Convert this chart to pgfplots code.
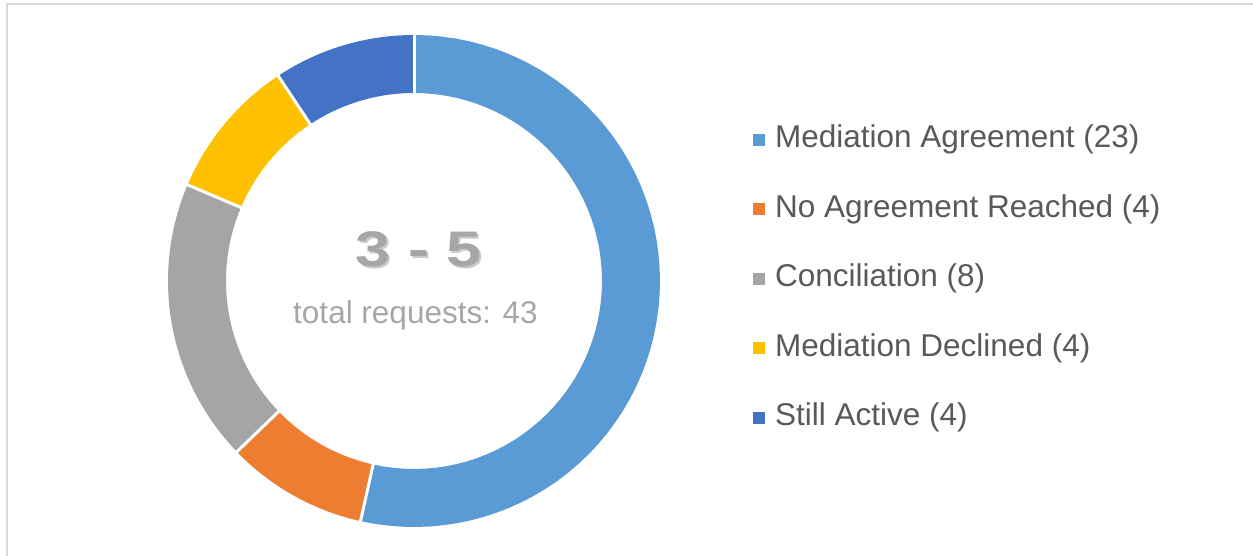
\documentclass[border=0pt]{standalone}
\usepackage{pgfplots}
\pgfplotsset{compat=1.18}
\usepackage{fontspec}
\setmainfont{Liberation Sans}
\definecolor{cA}{HTML}{5B9BD5}
\definecolor{cB}{HTML}{ED7D31}
\definecolor{cC}{HTML}{A5A5A5}
\definecolor{cD}{HTML}{FFC000}
\definecolor{cE}{HTML}{4472C4}
\definecolor{txt}{HTML}{595959}
\definecolor{ctr}{HTML}{A6A6A6}
\definecolor{frm}{HTML}{D9D9D9}
% ring segment between cumulative counts #1 and #2 (total 43)
\newcommand\seg[3]{%
\addplot[fill=#3, draw=none, samples at={0,...,121}, variable=\t]
({414+ifthenelse(\t<61,246,188)*cos(ifthenelse(\t<61, 90-360*(#1+(#2-#1)*\t/60)/43, 90-360*(#2-(#2-#1)*(\t-61)/60)/43))},
 {274+ifthenelse(\t<61,246,188)*sin(ifthenelse(\t<61, 90-360*(#1+(#2-#1)*\t/60)/43, 90-360*(#2-(#2-#1)*(\t-61)/60)/43))});}
\newcommand\sep[1]{%
\addplot[white, line width=3pt, samples=2, domain=180:255, forget plot, variable=\t]
({414+\t*cos(90-360*#1/43)},{274+\t*sin(90-360*#1/43)});}
\begin{document}
\begin{tikzpicture}
\useasboundingbox (0,0) rectangle (1253pt,555pt);
\draw[frm, line width=1.5pt] (7pt,-20pt) -- (7pt,551pt) -- (1280pt,551pt);
\begin{axis}[
  at={(0pt,0pt)}, anchor=origin,
  x=1pt, y=1pt, xmin=0, xmax=1253, ymin=0, ymax=555,
  hide axis, clip=false,
  legend style={at={(axis cs:753,430.5)}, anchor=north west, draw=none, fill=none,
    inner sep=0pt, row sep=39.5pt, column sep=10pt,
    font=\fontsize{31.5}{31.5}\selectfont, text=txt,
    nodes={inner sep=0pt, text height=23pt, text depth=7pt}},
  legend cell align=left,
  legend image code/.code={\fill[#1] (0pt,-6pt) rectangle (12pt,6pt);},
]
% counts: Mediation Agreement 23, No Agreement Reached 4, Conciliation 8, Mediation Declined 4, Still Active 4
\seg{0}{23}{cA}
\seg{23}{27}{cB}
\seg{27}{35}{cC}
\seg{35}{39}{cD}
\seg{39}{43}{cE}
\sep{0}\sep{23}\sep{27}\sep{35}\sep{39}
\legend{Mediation Agreement (23), No Agreement Reached (4), Conciliation (8), Mediation Declined (4), Still Active (4)}
\node[text=gray!75, opacity=0.55, anchor=base, xscale=1.26, font=\bfseries\fontsize{50}{50}\selectfont] at (axis cs:421,286) {3 - 5};
\node[text=ctr, anchor=base, xscale=1.26, font=\bfseries\fontsize{50}{50}\selectfont] at (axis cs:419,288) {3 - 5};
\node[text=ctr, anchor=base, font=\fontsize{31.5}{31.5}\selectfont] at (axis cs:415.5,232) {total requests: 43};
\end{axis}
\end{tikzpicture}
\end{document}
